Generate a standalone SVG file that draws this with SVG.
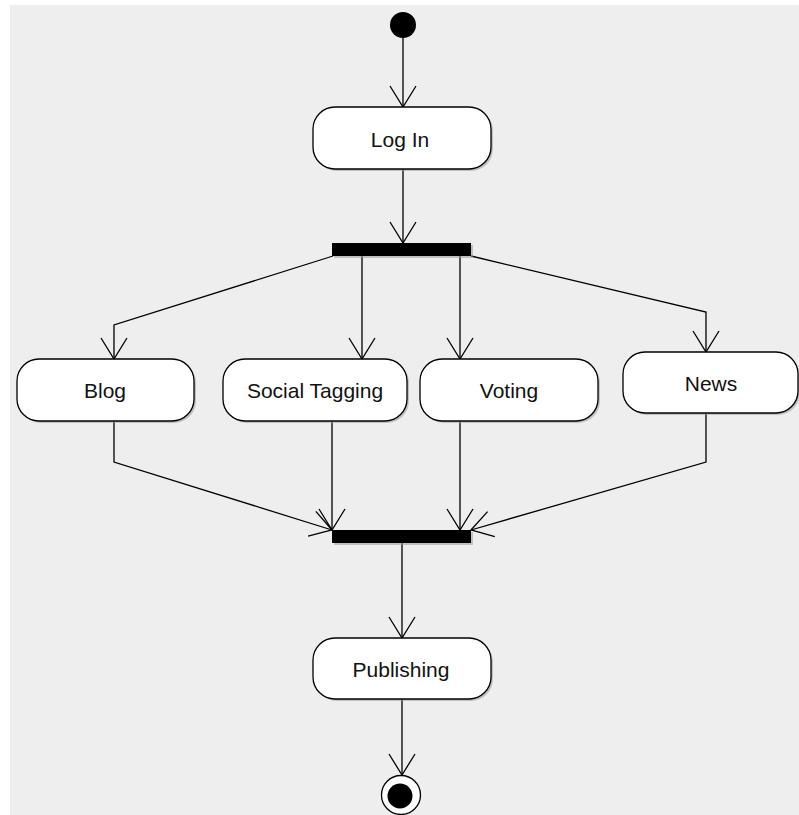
<svg xmlns="http://www.w3.org/2000/svg" width="799" height="815" viewBox="0 0 799 815">
  <style>
    .action { fill: #ffffff; stroke: #000000; stroke-width: 1.3; }
    .shadow { fill: #9a9a9a; opacity: 0.55; }
    .bar { fill: #000000; }
    .label { font-family: "Liberation Sans", Arial, sans-serif; font-size: 21px; fill: #111111; text-anchor: middle; }
    .flow { fill: none; stroke: #000000; stroke-width: 1.3; marker-end: url(#open-arrow); }
  </style>
  <defs>
    <marker id="open-arrow" markerUnits="userSpaceOnUse" markerWidth="30" markerHeight="30" viewBox="-22 -15 24 30" refX="0" refY="0" orient="auto">
      <path d="M -21 -13 L 0 0 L -21 13" fill="none" stroke="#000000" stroke-width="1.3"/>
    </marker>
  </defs>

  <!-- canvas -->
  <rect x="0" y="0" width="799" height="815" fill="#ffffff"/>
  <rect x="10" y="5" width="789" height="810" fill="#eeeeee"/>

  <!-- connectors -->
  <g id="connectors">
    <path class="flow" d="M 403 38 L 403 107"/>
    <path class="flow" d="M 403 169 L 403 243"/>
    <path class="flow" d="M 333 256 L 114 325 L 114 359"/>
    <path class="flow" d="M 362 256 L 362 359"/>
    <path class="flow" d="M 460 256 L 460 359"/>
    <path class="flow" d="M 471 256 L 706 312 L 706 352"/>
    <path class="flow" d="M 114 421 L 114 462 L 332 530"/>
    <path class="flow" d="M 332 421 L 332 530"/>
    <path class="flow" d="M 460 421 L 460 530"/>
    <path class="flow" d="M 706 413 L 706 462 L 471 530"/>
    <path class="flow" d="M 402 543 L 402 638"/>
    <path class="flow" d="M 402 699 L 402 775"/>
  </g>

  <!-- initial state -->
  <g id="start">
    <circle cx="403" cy="25" r="13" fill="#000000"/>
  </g>

  <g id="login">
    <rect class="shadow" x="315" y="109" width="178" height="62" rx="22" ry="22"/>
    <rect class="action" x="313" y="107" width="178" height="62" rx="22" ry="22"/>
    <text class="label" x="400" y="147">Log In</text>
  </g>

  <g id="fork">
    <rect class="shadow" x="334" y="245" width="139" height="13"/>
    <rect class="bar" x="332" y="243" width="139" height="13"/>
  </g>

  <g id="blog">
    <rect class="shadow" x="19" y="361" width="177" height="62" rx="22" ry="22"/>
    <rect class="action" x="17" y="359" width="177" height="62" rx="22" ry="22"/>
    <text class="label" x="105" y="398">Blog</text>
  </g>

  <g id="social-tagging">
    <rect class="shadow" x="225" y="361" width="184" height="62" rx="22" ry="22"/>
    <rect class="action" x="223" y="359" width="184" height="62" rx="22" ry="22"/>
    <text class="label" x="315" y="398">Social Tagging</text>
  </g>

  <g id="voting">
    <rect class="shadow" x="422" y="361" width="178" height="62" rx="22" ry="22"/>
    <rect class="action" x="420" y="359" width="178" height="62" rx="22" ry="22"/>
    <text class="label" x="509" y="398">Voting</text>
  </g>

  <g id="news">
    <rect class="shadow" x="625" y="354" width="175" height="61" rx="22" ry="22"/>
    <rect class="action" x="623" y="352" width="175" height="61" rx="22" ry="22"/>
    <text class="label" x="711" y="391">News</text>
  </g>

  <g id="join">
    <rect class="shadow" x="334" y="532" width="139" height="13"/>
    <rect class="bar" x="332" y="530" width="139" height="13"/>
  </g>

  <g id="publishing">
    <rect class="shadow" x="315" y="640" width="178" height="61" rx="22" ry="22"/>
    <rect class="action" x="313" y="638" width="178" height="61" rx="22" ry="22"/>
    <text class="label" x="401" y="677">Publishing</text>
  </g>

  <!-- final state -->
  <g id="end">
    <circle cx="401" cy="795" r="19.5" fill="#ffffff" stroke="#000000" stroke-width="1.3"/>
    <circle cx="400" cy="796" r="12.5" fill="#000000"/>
  </g>
</svg>
